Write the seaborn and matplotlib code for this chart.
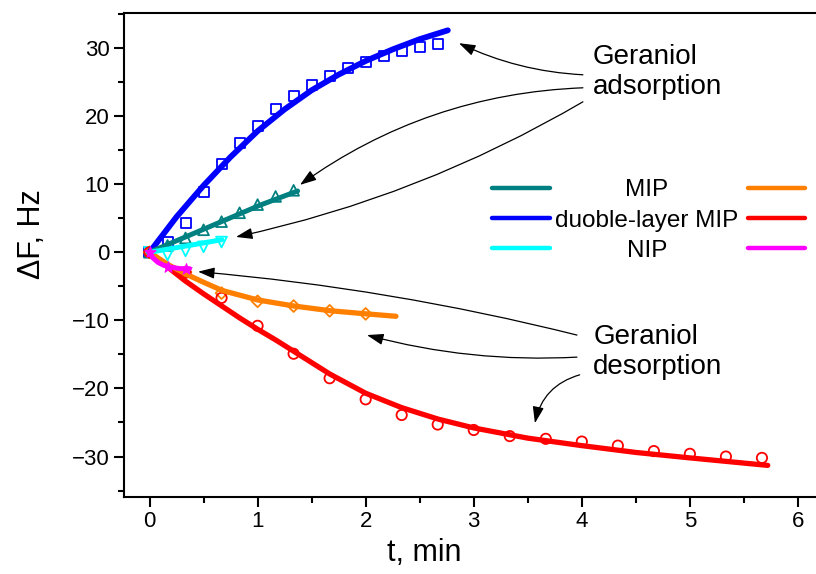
import numpy as np
import pandas as pd
import matplotlib
matplotlib.use("Agg")
import matplotlib.pyplot as plt
from matplotlib.lines import Line2D
from matplotlib.ticker import MultipleLocator
import seaborn as sns

# ---- measured points (t in min, frequency shift in Hz) ----
t6 = [k / 6 for k in range(17)]          # 10 s sampling
t3 = [k / 3 for k in range(18)]          # 20 s sampling

dl_mip_ads_t = t6
dl_mip_ads_f = [0, 1.5, 4.3, 8.8, 13.0, 16.1, 18.6, 21.1, 23.0, 24.5,
                25.9, 27.0, 28.0, 28.8, 29.5, 30.2, 30.6]

mip_ads_t = t6[:9]
mip_ads_f = [0, 1.0, 2.1, 3.3, 4.5, 5.8, 7.0, 8.2, 9.1]

nip_ads_t = t6[:5]
nip_ads_f = [0, -0.4, 0.2, 0.8, 1.5]

mip_des_t = t3[:7]
mip_des_f = [0, -2.9, -6.0, -7.2, -7.9, -8.6, -9.05]

dl_mip_des_t = t3
dl_mip_des_f = [0, -3.0, -6.7, -10.8, -14.9, -18.5, -21.6, -23.9, -25.3,
                -26.1, -27.0, -27.4, -27.8, -28.4, -29.2, -29.6, -30.0, -30.2]

nip_des_t = t6[:3]
nip_des_f = [0, -2.1, -2.4]

# ---- fitted kinetic curves ----
dl_mip_ads_fit_t = [0, 0.25, 0.5, 0.75, 1.0, 1.25, 1.5, 1.75, 2.0, 2.25, 2.5, 2.76]
dl_mip_ads_fit_f = [0, 5.2, 9.8, 14.0, 17.8, 21.0, 23.8, 26.1, 28.1, 29.8, 31.3, 32.6]

mip_ads_fit_t = [0, 0.34, 0.68, 1.02, 1.37]
mip_ads_fit_f = [0, 2.3, 4.6, 6.9, 9.0]

nip_ads_fit_t = [0, 0.33, 0.67]
nip_ads_fit_f = [0, 0.9, 1.85]

mip_des_fit_t = [0, 0.17, 0.35, 0.5, 0.67, 1.0, 1.34, 1.68, 2.01, 2.28]
mip_des_fit_f = [0, -1.8, -3.3, -4.4, -5.6, -7.0, -7.9, -8.6, -9.05, -9.4]

dl_mip_des_fit_t = [0, 0.17, 0.33, 0.5, 0.67, 0.83, 1.0, 1.17, 1.33, 1.67, 2.0,
                    2.33, 2.67, 3.0, 3.5, 4.0, 4.5, 5.0, 5.72]
dl_mip_des_fit_f = [0, -2.2, -4.2, -6.1, -7.9, -9.6, -11.3, -12.9, -14.5, -17.9,
                    -20.7, -22.8, -24.5, -25.8, -27.3, -28.4, -29.4, -30.2, -31.3]

nip_des_fit_t = [0, 0.03, 0.08, 0.13, 0.2, 0.28, 0.37]
nip_des_fit_f = [0, -0.8, -1.5, -1.9, -2.2, -2.4, -2.4]

legend_labels = ["MIP", "duoble-layer MIP", "NIP"]

TEAL, BLUE, CYAN = "#008080", "#0000FF", "#00FFFF"
ORANGE, RED, MAGENTA = "#FF8000", "#FF0000", "#FF00FF"

sns.set_style("ticks")
plain = ["Liberation Sans", "DejaVu Sans"]
plt.rcParams["font.family"] = plain
plt.rcParams.update({"text.color": "black", "axes.labelcolor": "black",
                     "xtick.color": "black", "ytick.color": "black",
                     "axes.edgecolor": "black"})

fig = plt.figure(figsize=(8.16, 5.74), dpi=100)
ax = fig.add_axes([124 / 816, 1 - 496.7 / 574, 701 / 816, 483.4 / 574])

# open symbols for the measured data
scatter_sets = [
    (dl_mip_ads_t, dl_mip_ads_f, "s", BLUE, 52),
    (mip_ads_t, mip_ads_f, "^", TEAL, 60),
    (nip_ads_t, nip_ads_f, "v", CYAN, 60),
    (mip_des_t, mip_des_f, "D", ORANGE, 36),
    (dl_mip_des_t, dl_mip_des_f, "o", RED, 55),
]
for tx, fy, mk, col, sz in scatter_sets:
    sns.scatterplot(x=tx, y=fy, marker=mk, s=sz, facecolor="none",
                    edgecolor=col, linewidth=1.3, ax=ax, zorder=2)

# fitted curves on top of the symbols
curve_sets = [
    (dl_mip_des_fit_t, dl_mip_des_fit_f, RED, 3.8),
    (mip_des_fit_t, mip_des_fit_f, ORANGE, 3.8),
    (dl_mip_ads_fit_t, dl_mip_ads_fit_f, BLUE, 4.2),
    (mip_ads_fit_t, mip_ads_fit_f, TEAL, 3.6),
    (nip_ads_fit_t, nip_ads_fit_f, CYAN, 3.6),
    (nip_des_fit_t, nip_des_fit_f, MAGENTA, 3.6),
]
for tx, fy, col, lw in curve_sets:
    sns.lineplot(x=tx, y=fy, color=col, linewidth=lw, ax=ax,
                 solid_capstyle="round", zorder=3)

sns.scatterplot(x=nip_des_t, y=nip_des_f, marker="*", s=70, color=MAGENTA,
                edgecolor=MAGENTA, linewidth=0.8, ax=ax, zorder=4)

ax.set_xlim(-0.236, 6.25)
ax.set_ylim(-35.9, 35.1)
ax.xaxis.set_major_locator(MultipleLocator(1))
ax.xaxis.set_minor_locator(MultipleLocator(0.5))
ax.yaxis.set_major_locator(MultipleLocator(10))
ax.yaxis.set_minor_locator(MultipleLocator(5))
ax.tick_params(which="major", direction="out", length=7.5, width=1.5,
               labelsize=16, pad=3, color="black", labelcolor="black")
ax.tick_params(which="minor", direction="out", length=4.5, width=1.5, color="black")
for sp in ax.spines.values():
    sp.set_linewidth(1.5)
    sp.set_color("black")

ax.set_xlabel("t, min", fontsize=22)
ax.set_ylabel("ΔF, Hz", fontsize=22)
ax.xaxis.label.set_verticalalignment("center")
ax.yaxis.label.set_verticalalignment("center")
ax.xaxis.set_label_coords(0.428, -0.116)
ax.yaxis.set_label_coords(-0.131, 0.543)

# annotations
ax.text(4.10, 30.6, "Geraniol\nadsorption", fontsize=20, ha="left", va="top")
ax.text(4.105, -10.5, "Geraniol\ndesorption", fontsize=20, ha="left", va="top")

arrow_kw = dict(arrowstyle="-|>,head_length=0.5,head_width=0.17",
                color="black", lw=0.9, mutation_scale=20,
                shrinkA=0, shrinkB=0)
arrows = [
    ((2.863, 30.71), (4.010, 26.07), -0.1),
    ((1.392, 9.90), (4.010, 24.16), 0.15),
    ((0.800, 2.25), (4.010, 22.10), -0.08),
    ((0.449, -2.85), (3.955, -12.16), 0.04),
    ((2.012, -12.16), (3.955, -15.40), -0.08),
    ((3.566, -25.10), (3.980, -18.00), 0.3),
]
for head, tail, rad in arrows:
    ax.annotate("", xy=head, xytext=tail,
                arrowprops=dict(connectionstyle=f"arc3,rad={rad}", **arrow_kw))

# two-column legend: adsorption curves on the left, desorption on the right
left_cols = [TEAL, BLUE, CYAN]
right_cols = [ORANGE, RED, MAGENTA]
rows_px = [187.7, 218.3, 248.3]
W, H = 816, 574
for lab, cl, cr, ypx in zip(legend_labels, left_cols, right_cols, rows_px):
    yf = 1 - ypx / H
    fig.add_artist(Line2D([492 / W, 550 / W], [yf, yf], color=cl, lw=3.2,
                          solid_capstyle="round"))
    fig.add_artist(Line2D([748 / W, 805 / W], [yf, yf], color=cr, lw=3.2,
                          solid_capstyle="round"))
    fig.text(647 / W, yf, lab, fontsize=17.5, ha="center", va="center_baseline")

fig.savefig("out.png", dpi=100)
